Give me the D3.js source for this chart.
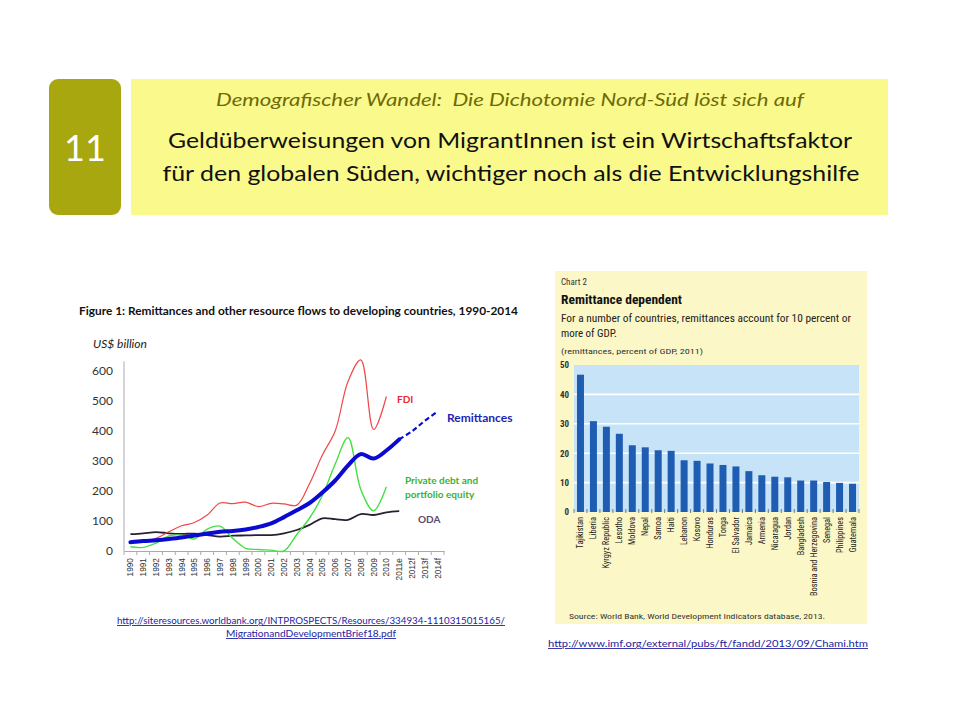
<!DOCTYPE html>
<html>
<head>
<meta charset="utf-8">
<script src="https://cdnjs.cloudflare.com/ajax/libs/d3/7.8.5/d3.min.js"></script>
<style>
  html, body { margin: 0; padding: 0; background: #ffffff; }
  svg { display: block; }
</style>
</head>
<body>
<svg id="chart" width="960" height="720"></svg>
<script>
// ---------- DATA ----------
const years = ["1990","1991","1992","1993","1994","1995","1996","1997","1998","1999","2000","2001","2002","2003","2004","2005","2006","2007","2008","2009","2010","2011e","2012f","2013f","2014f"];
const remittances = [29,33,36,40,45,52,58,64,67,72,80,92,113,136,160,195,235,285,323,308,335,372,399,434,465];
const fdi = [26,30,42,64,84,95,120,160,158,163,148,159,157,153,225,320,400,565,637,405,515];
const privateDebt = [14,12,26,50,53,40,73,83,42,9,5,3,0,55,110,185,290,378,205,134,214];
const oda = [56,59,63,59,57,58,53,48,51,52,53,53,59,70,87,109,106,104,123,120,129,133];
const yTicksLeft = [0,100,200,300,400,500,600];

const countries = ["Tajikistan","Liberia","Kyrgyz Republic","Lesotho","Moldova","Nepal","Samoa","Haiti","Lebanon","Kosovo","Honduras","Tonga","El Salvador","Jamaica","Armenia","Nicaragua","Jordan","Bangladesh","Bosnia and Herzegovina","Senegal","Philippines","Guatemala"];
const remitShare = [46.7,30.9,29.0,26.6,22.7,22.0,21.0,20.8,17.6,17.4,16.5,16.0,15.5,13.9,12.5,12.0,11.8,10.7,10.7,10.2,9.9,9.6];
const yTicksRight = [0,10,20,30,40,50];

// ---------- SETUP ----------
const svg = d3.select("#chart");
const calibri = "Lato, 'Open Sans', 'DejaVu Sans', sans-serif";

// ---------- HEADER ----------
svg.append("rect").attr("x",49).attr("y",79).attr("width",72).attr("height",136)
  .attr("rx",9).attr("fill","#a8a70f");
svg.append("text").attr("x",85).attr("y",161).attr("text-anchor","middle")
  .attr("font-family",calibri).attr("font-size",36).attr("fill","#ffffff").text("11");
svg.append("rect").attr("x",131).attr("y",79).attr("width",757).attr("height",136)
  .attr("fill","#f9f98c");
svg.append("text").attr("x",510).attr("y",106).attr("text-anchor","middle")
  .style("white-space","pre")
  .attr("font-family",calibri).attr("font-style","italic").attr("font-size",18)
  .attr("fill","#6e6a08").attr("textLength",588).attr("lengthAdjust","spacingAndGlyphs")
  .text("Demografischer Wandel:  Die Dichotomie Nord-Süd löst sich auf");
svg.append("text").attr("x",510).attr("y",148).attr("text-anchor","middle")
  .attr("font-family",calibri).attr("font-size",22).attr("fill","#111")
  .attr("textLength",684).attr("lengthAdjust","spacingAndGlyphs")
  .text("Geldüberweisungen von MigrantInnen ist ein Wirtschaftsfaktor");
svg.append("text").attr("x",511).attr("y",181).attr("text-anchor","middle")
  .attr("font-family",calibri).attr("font-size",22).attr("fill","#111")
  .attr("textLength",697).attr("lengthAdjust","spacingAndGlyphs")
  .text("für den globalen Süden, wichtiger noch als die Entwicklungshilfe");

// ---------- LEFT CHART ----------
const L = svg.append("g");
L.append("text").attr("x",79).attr("y",315).attr("font-family",calibri)
  .attr("font-weight","bold").attr("font-size",11).attr("fill","#111")
  .attr("textLength",439).attr("lengthAdjust","spacingAndGlyphs")
  .text("Figure 1: Remittances and other resource flows to developing countries, 1990-2014");
L.append("text").attr("x",93).attr("y",348).attr("font-family",calibri)
  .attr("font-style","italic").attr("font-size",12).attr("fill","#222")
  .text("US$ billion");

const x = d3.scaleBand().domain(years).range([124,444]);
const y = d3.scaleLinear().domain([0,600]).range([551,371]);
const cx = d => x(d) + x.bandwidth()/2;

// y axis
const yAxis = d3.axisLeft(y).tickValues(yTicksLeft).tickSize(0).tickPadding(11);
const gy = L.append("g").attr("transform","translate(124,0)").call(yAxis);
gy.select(".domain").remove();
gy.selectAll("text").attr("font-family",calibri).attr("font-size",12).attr("fill","#333");
L.append("line").attr("x1",124).attr("x2",124).attr("y1",y(632)).attr("y2",551)
  .attr("stroke","#aaa").attr("stroke-width",1);

// x axis
const xAxis = d3.axisBottom(x).tickSize(0).tickPadding(0);
const gx = L.append("g").attr("transform","translate(0,551)").call(xAxis);
gx.select(".domain").attr("stroke","#aaa");
gx.selectAll(".tick line").remove();
gx.selectAll("text")
  .attr("font-family","'Liberation Sans', Arial, sans-serif").attr("font-size",8.3).attr("fill","#333")
  .attr("transform","translate(3,7) rotate(-90)").attr("text-anchor","end").attr("dy",0).attr("y",0).attr("x",0);
// boundary tick marks
L.append("g").selectAll("line").data(years.concat(["_end"])).join("line")
  .attr("x1",(d,i)=> i < years.length ? x(d) : 444)
  .attr("x2",(d,i)=> i < years.length ? x(d) : 444)
  .attr("y1",551).attr("y2",555).attr("stroke","#aaa");

const line = d3.line().x(d=>cx(d.k)).y(d=>y(d.v)).curve(d3.curveCatmullRom.alpha(0.5));
const toPts = arr => arr.map((v,i)=>({k:years[i], v}));

L.append("path").attr("d", line(toPts(oda))).attr("fill","none")
  .attr("stroke","#2a1f33").attr("stroke-width",1.8);
L.append("path").attr("d", line(toPts(privateDebt))).attr("fill","none")
  .attr("stroke","#44e044").attr("stroke-width",1.4);
L.append("path").attr("d", line(toPts(fdi))).attr("fill","none")
  .attr("stroke","#f04848").attr("stroke-width",1.2);
const remPts = toPts(remittances);
L.append("path").attr("d", line(remPts.slice(0,22))).attr("fill","none")
  .attr("stroke","#0a0ad0").attr("stroke-width",4).attr("stroke-linecap","round");
L.append("path").attr("d", line(remPts.slice(21))).attr("fill","none")
  .attr("stroke","#0a0ad0").attr("stroke-width",2.2).attr("stroke-dasharray","5,3");

// series labels
const lab = (t,xx,yy,c,fs) => L.append("text").attr("x",xx).attr("y",yy)
  .attr("font-family",calibri).attr("font-weight","bold").attr("font-size",fs).attr("fill",c).text(t);
lab("FDI",397,403,"#e8262c",10);
lab("Remittances",447,422,"#1d26b3",12);
lab("Private debt and",405,484,"#36b436",10);
lab("portfolio equity",405,498,"#36b436",10);
lab("ODA",418,523,"#5b4b70",10);

// links
const link = (t,xx,yy,anchor,len) => svg.append("text").attr("x",xx).attr("y",yy)
  .attr("text-anchor",anchor).attr("font-family",calibri).attr("font-size",9)
  .attr("fill","#2323a0").attr("text-decoration","underline")
  .attr("textLength",len).attr("lengthAdjust","spacingAndGlyphs").text(t);
link("http://siteresources.worldbank.org/INTPROSPECTS/Resources/334934-1110315015165/",311,624,"middle",388);
link("MigrationandDevelopmentBrief18.pdf",311,637,"middle",170);
link("http://www.imf.org/external/pubs/ft/fandd/2013/09/Chami.htm",548,647,"start",320);

// ---------- RIGHT CHART ----------
const R = svg.append("g");
const narrow = "'Liberation Sans Narrow', 'Arial Narrow', 'Roboto Condensed', 'Liberation Sans', sans-serif";
R.append("rect").attr("x",555).attr("y",271).attr("width",312).attr("height",353).attr("fill","#fcf7c6");
R.append("text").attr("x",561).attr("y",285).attr("font-family",narrow).attr("font-size",9).attr("fill","#333").text("Chart 2");
R.append("text").attr("x",561).attr("y",304).attr("font-family",narrow).attr("font-weight","bold")
  .attr("font-size",12).attr("fill","#111").attr("textLength",121).attr("lengthAdjust","spacingAndGlyphs")
  .text("Remittance dependent");
R.append("text").attr("x",561).attr("y",322).attr("font-family",narrow).attr("font-size",10.5)
  .attr("fill","#222").attr("textLength",290).attr("lengthAdjust","spacingAndGlyphs")
  .text("For a number of countries, remittances account for 10 percent or");
R.append("text").attr("x",561).attr("y",337).attr("font-family",narrow).attr("font-size",10.5)
  .attr("fill","#222").attr("textLength",56).attr("lengthAdjust","spacingAndGlyphs").text("more of GDP.");
R.append("text").attr("x",561).attr("y",354).attr("font-family",narrow).attr("font-size",8)
  .attr("fill","#333").attr("textLength",142).attr("lengthAdjust","spacingAndGlyphs")
  .text("(remittances, percent of GDP, 2011)");

const xb = d3.scaleBand().domain(countries).range([574,859]).paddingInner(0.46).paddingOuter(0.23);
const yb = d3.scaleLinear().domain([0,50]).range([512,365]);

R.append("rect").attr("x",574).attr("y",365).attr("width",285).attr("height",147).attr("fill","#c7e3f7");
R.append("g").selectAll("line").data(yTicksRight.filter(d=>d>0 && d<50)).join("line")
  .attr("x1",574).attr("x2",859).attr("y1",d=>yb(d)).attr("y2",d=>yb(d))
  .attr("stroke","#ffffff").attr("stroke-width",1.6);

R.append("g").selectAll("rect").data(countries).join("rect")
  .attr("x",d=>xb(d)).attr("width",xb.bandwidth())
  .attr("y",(d,i)=>yb(remitShare[i])).attr("height",(d,i)=>512-yb(remitShare[i]))
  .attr("fill","#1f5db3");

const gyb = R.append("g").attr("transform","translate(574,0)")
  .call(d3.axisLeft(yb).tickValues(yTicksRight).tickSize(0).tickPadding(5));
gyb.select(".domain").remove();
gyb.selectAll("text").attr("font-family",narrow).attr("font-weight","bold").attr("font-size",9).attr("fill","#333");

// baseline ticks between bars
const step = xb.step();
R.append("g").selectAll("line").data(d3.range(countries.length+1)).join("line")
  .attr("x1",i=>xb(countries[0]) - (step-xb.bandwidth())/2 + i*step)
  .attr("x2",i=>xb(countries[0]) - (step-xb.bandwidth())/2 + i*step)
  .attr("y1",509).attr("y2",513).attr("stroke","#556070").attr("stroke-width",0.8);

const gxb = R.append("g").attr("transform","translate(0,512)")
  .call(d3.axisBottom(xb).tickSize(0).tickPadding(0));
gxb.select(".domain").remove();
gxb.selectAll("text").attr("font-family",narrow).attr("font-size",8.3).attr("fill","#222")
  .attr("transform","translate(3,5) rotate(-90)").attr("text-anchor","end").attr("x",0).attr("y",0).attr("dy",0);

R.append("text").attr("x",569).attr("y",619).attr("font-family",narrow).attr("font-size",7.5)
  .attr("fill","#333").attr("textLength",256).attr("lengthAdjust","spacingAndGlyphs")
  .text("Source: World Bank, World Development Indicators database, 2013.");
</script>
</body>
</html>
